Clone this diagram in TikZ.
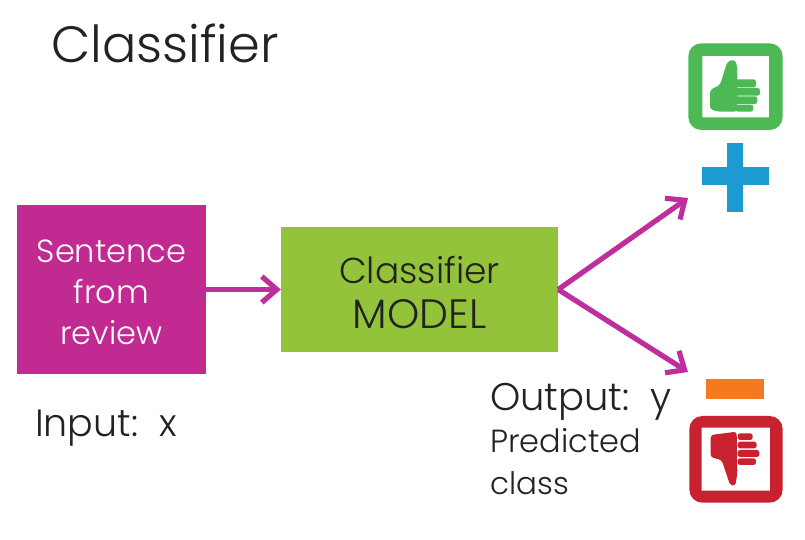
\documentclass[tikz,border=0pt]{standalone}
\usepackage{fontspec}
\setmainfont{Poppins}[UprightFont=* Light]
\usetikzlibrary{arrows.meta}
\definecolor{magbox}{HTML}{C02A91}
\definecolor{magline}{HTML}{BE2E9C}
\definecolor{modelgreen}{HTML}{93C33B}
\definecolor{upgreen}{HTML}{4CB954}
\definecolor{plusblue}{HTML}{1E9AD2}
\definecolor{minusorange}{HTML}{F47A20}
\definecolor{downred}{HTML}{C9222F}
\definecolor{inktext}{HTML}{222222}
\newcommand{\fs}[2]{\fontsize{#1}{#2}\selectfont}
\tikzset{
  flowbox/.style={draw=none,inner sep=0pt,align=center},
  flowarrow/.style={draw=magline,line width=5.2pt,-{Straight Barb[length=15pt,width=26pt,line width=5.2pt]}},
  plain/.style={anchor=base west,inner sep=0pt,text=inktext},
  finger/.style={rounded corners=2.5pt}
}
\begin{document}
\begin{tikzpicture}[x=1pt,y=-1pt]
\useasboundingbox (0,0) rectangle (805,540);
\fill[white] (0,0) rectangle (805,540);
\node[plain,font=\fs{51}{51}] (title) at (51,63) {Classifier};
\node[flowbox,fill=magbox,text=white,minimum width=189pt,minimum height=169pt,font=\fs{32}{41}] (sent) at (111.5,289.5) {\rule{0pt}{28pt}Sentence\\from\\review};
\node[flowbox,fill=modelgreen,text=inktext,minimum width=277pt,minimum height=125pt,font=\fs{36}{45}] (model) at (419.5,289.5) {\rule{0pt}{33pt}Classifier\\{\fs{41}{45}MODEL}};
\coordinate (tipplus) at (688,198);
\coordinate (tipminus) at (688,372);
\draw[flowarrow] (sent.east) -- (model.west);
\draw[flowarrow] (model.east) -- (tipplus);
\draw[flowarrow] (model.east) -- (tipminus);
\node[plain,font=\fs{38}{38}] (input) at (35,436) {Input:\ \ x};
\node[plain,font=\fs{38.5}{38}] (output) at (490,410) {Output:\ \ y};
\node[plain,font=\fs{32}{32}] (pred) at (490,452) {Predicted};
\node[plain,font=\fs{31}{31}] (cls) at (490,494) {class};
% thumbs-up icon
\begin{scope}[shift={(670,30)},x=0.3333pt,y=-0.3333pt]
  \fill[upgreen,rounded corners=13pt,even odd rule] (55,40) rectangle (338,300) [sharp corners] (97,78) rectangle (297,262);
  \fill[upgreen,rounded corners=3pt] (172,95) -- (194,88) -- (202,110) -- (202,245) -- (145,245) -- (120,238) -- (120,180) -- (150,165) -- cycle;
  \fill[upgreen,finger] (196,148) rectangle (258,172);
  \fill[upgreen,finger] (196,174) rectangle (270,197);
  \fill[upgreen,finger] (196,199) rectangle (262,222);
  \fill[upgreen,finger] (196,224) rectangle (250,245);
  \fill[plusblue] (172,338) rectangle (220,545);
  \fill[plusblue] (97,410) rectangle (298,465);
\end{scope}
% thumbs-down icon
\begin{scope}[shift={(670,360)},x=0.3333pt,y=-0.3333pt]
  \fill[minusorange] (108,57) rectangle (283,117);
  \fill[downred,rounded corners=13pt,even odd rule] (58,168) rectangle (338,428) [sharp corners] (95,203) rectangle (300,392);
  \fill[downred,rounded corners=3pt] (122,225) -- (200,215) -- (202,340) -- (196,378) -- (180,375) -- (155,300) -- (122,292) -- cycle;
  \fill[downred,finger] (203,220) rectangle (248,240);
  \fill[downred,finger] (203,245) rectangle (260,265);
  \fill[downred,finger] (203,270) rectangle (268,291);
  \fill[downred,finger] (203,295) rectangle (258,315);
\end{scope}
\end{tikzpicture}
\end{document}
